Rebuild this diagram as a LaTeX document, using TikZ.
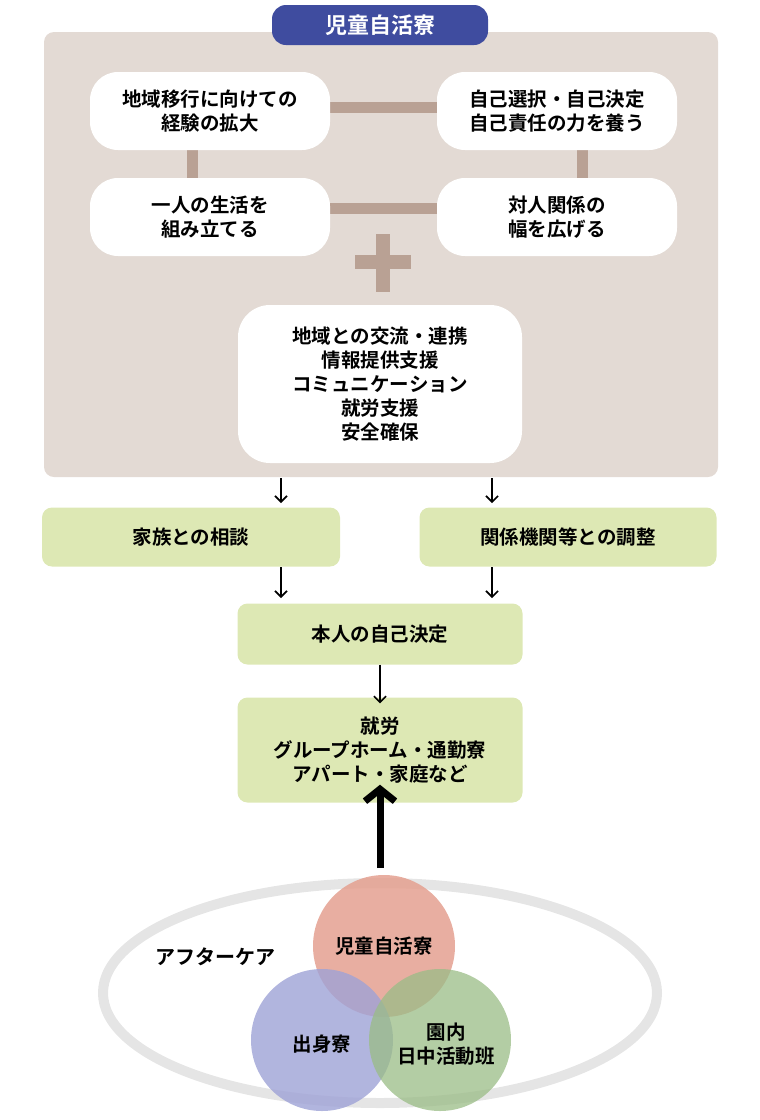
\documentclass[tikz,border=0pt]{standalone}
\usepackage{fontspec}
\setmainfont{Noto Sans CJK JP}[BoldFont={Noto Sans CJK JP Bold}]
\usetikzlibrary{arrows.meta}
\begin{document}
\begin{tikzpicture}[x=1pt,y=-1pt,
  wbox/.style={fill=white,rounded corners=28pt,align=center,font=\bfseries\fontsize{19.5}{24}\selectfont},
  gbox/.style={fill=gfill,rounded corners=10pt,align=center,font=\bfseries\fontsize{19.5}{24}\selectfont},
  bar/.style={draw=barc,line width=11pt},
  arr/.style={-{Straight Barb[length=6pt,width=12pt,line width=1.6pt]},line width=1.6pt}]
\definecolor{beige}{HTML}{E3DAD4}
\definecolor{barc}{HTML}{B9A194}
\definecolor{gfill}{HTML}{DDE8B4}
\definecolor{navy}{HTML}{3F4C9F}
\definecolor{cr}{HTML}{E4A090}
\definecolor{cb}{HTML}{9EA2D6}
\definecolor{cg}{HTML}{9ABC86}
\useasboundingbox (0,0) rectangle (760,1120);
\fill[beige,rounded corners=10pt] (44,32) rectangle (718,477);
\node[fill=navy,rounded corners=14pt,minimum width=216pt,minimum height=40pt,text=white,font=\bfseries\fontsize{22}{26}\selectfont] (title) at (380,25) {児童自活寮};
\draw[bar] (320,107) -- (447,107);
\draw[bar] (320,208) -- (447,208);
\draw[bar] (192,140) -- (192,188);
\draw[bar] (582,140) -- (582,188);
\node[wbox,minimum width=240pt,minimum height=78pt] (A) at (210,111) {地域移行に向けての\\経験の拡大};
\node[wbox,minimum width=240pt,minimum height=78pt] (B) at (557,111) {自己選択・自己決定\\自己責任の力を養う};
\node[wbox,minimum width=240pt,minimum height=78pt] (C) at (210,217) {一人の生活を\\組み立てる};
\node[wbox,minimum width=240pt,minimum height=78pt] (D) at (557,217) {対人関係の\\幅を広げる};
\draw[barc,line width=14pt] (355,262) -- (411,262) (383,234) -- (383,292);
\node[wbox,minimum width=284pt,minimum height=158pt,rounded corners=32pt] (E) at (380,384) {地域との交流・連携\\情報提供支援\\コミュニケーション\\就労支援\\安全確保};
\node[gbox,minimum width=298pt,minimum height=59pt] (F) at (191,537) {家族との相談};
\node[gbox,minimum width=297pt,minimum height=59pt] (G) at (568,537) {関係機関等との調整};
\node[gbox,minimum width=285pt,minimum height=61pt] (H) at (380,634) {本人の自己決定};
\node[gbox,minimum width=285pt,minimum height=105pt] (I) at (380,750) {就労\\グループホーム・通勤寮\\アパート・家庭など};
\coordinate (e1) at (281,478); \coordinate (e2) at (492,478);
\draw[arr] (e1) -- (281,503);
\draw[arr] (e2) -- (492,503);
\draw[arr] (281,567) -- (281,598);
\draw[arr] (492,567) -- (492,598);
\draw[arr] (H) -- ([yshift=-6pt]I.north);
\coordinate (up) at (380,868);
\draw[-{Straight Barb[length=12pt,width=30pt,line width=7pt]},line width=7pt] (up) -- ([yshift=18pt]I.south);
\draw[black!10,line width=10pt] (380,993) ellipse (277pt and 110pt);
\fill[cr,fill opacity=0.85] (384,946) circle (71pt);
\fill[cb,fill opacity=0.8] (322,1040) circle (71pt);
\fill[cg,fill opacity=0.75] (440,1040) circle (71pt);
\node[font=\bfseries\fontsize{19.5}{24}\selectfont] (r) at (384,946) {児童自活寮};
\node[font=\bfseries\fontsize{19.5}{24}\selectfont] (b) at (322,1044) {出身寮};
\node[font=\bfseries\fontsize{19.5}{24}\selectfont,align=center] (g) at (446,1044) {園内\\日中活動班};
\node[font=\bfseries\fontsize{20}{24}\selectfont] (ac) at (215,957) {アフターケア};
\end{tikzpicture}
\end{document}
